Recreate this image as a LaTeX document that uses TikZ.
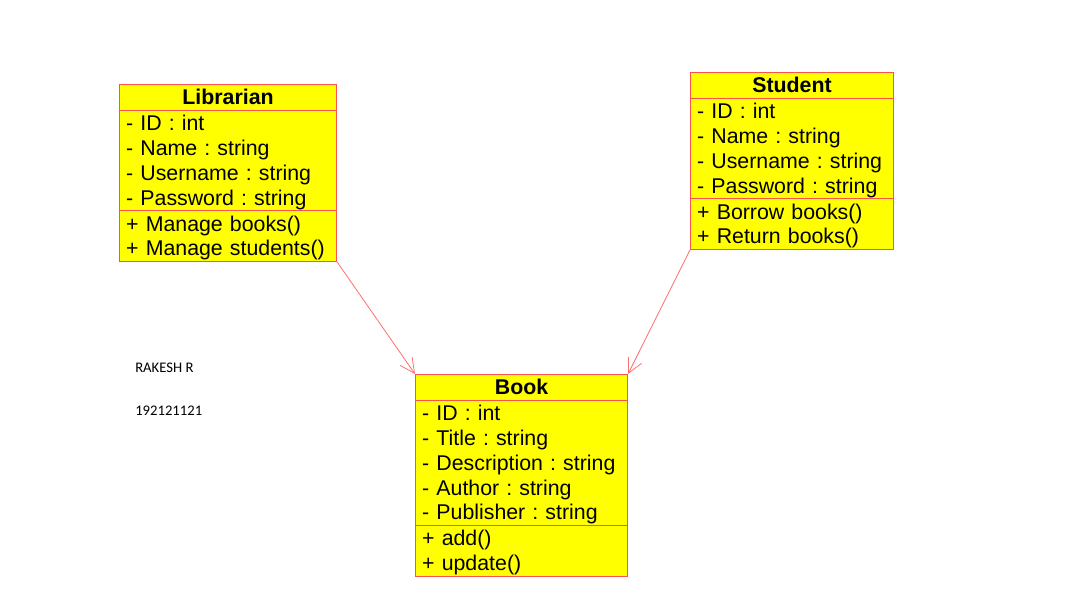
\documentclass[tikz,border=0pt]{standalone}
\usepackage{fontspec}
\setmainfont{Liberation Sans}
\newfontfamily\notefont{Carlito}
\usetikzlibrary{shapes.multipart, arrows.meta}
\frenchspacing

\definecolor{classfill}{RGB}{255,255,0}
\definecolor{classline}{RGB}{255,80,80}
\definecolor{assocline}{RGB}{255,110,110}

\newcommand{\rs}{\rule[-0.2\baselineskip]{0pt}{\baselineskip}}
\newcommand{\ctitle}[1]{\hbox to \hsize{\hfil\bfseries\rs #1\hfil}}

\tikzset{
  umlclass/.style={rectangle split, rectangle split parts=3,
    draw=classline, fill=classfill, line width=0.8pt,
    inner xsep=5pt, inner ysep=0pt, align=left, anchor=north west,
    font=\fontsize{16}{18.6}\selectfont},
  assoc/.style={draw=assocline, line width=0.6pt,
    -{Straight Barb[length=11pt,width=11pt]}},
  note/.style={inner sep=0pt, anchor=west, font=\notefont\fontsize{11}{13}\selectfont}
}

\begin{document}
\begin{tikzpicture}[x=0.75pt,y=-0.75pt]
    \useasboundingbox (0,0) rectangle (1067,614);

    % classes
    \node[umlclass, text width=152.75pt] (librarian) at (119,84)
        {\ctitle{Librarian}
        \nodepart{second}\rs - ID : int\\\rs - Name : string\\
            \rs - Username : string\\\rs - Password : string
        \nodepart{third}\rs + Manage books()\\\rs + Manage students()};
    \node[umlclass, text width=142.25pt] (student) at (690,72)
        {\ctitle{Student}
        \nodepart{second}\rs - ID : int\\\rs - Name : string\\
            \rs - Username : string\\\rs - Password : string
        \nodepart{third}\rs + Borrow books()\\\rs + Return books()};
    \node[umlclass, text width=149pt] (book) at (415,374)
        {\ctitle{Book}
        \nodepart{second}\rs - ID : int\\\rs - Title : string\\
            \rs - Description : string\\\rs - Author : string\\
            \rs - Publisher : string
        \nodepart{third}\rs + add()\\\rs + update()};

    % associations
    \draw[assoc] (librarian.south east) -- (book.north west);
    \draw[assoc] (student.south west) -- (book.north east);

    % student details
    \node[note] (name) at (135,368) {RAKESH R};
    \node[note] (regno) at (135,411) {192121121};
\end{tikzpicture}
\end{document}
